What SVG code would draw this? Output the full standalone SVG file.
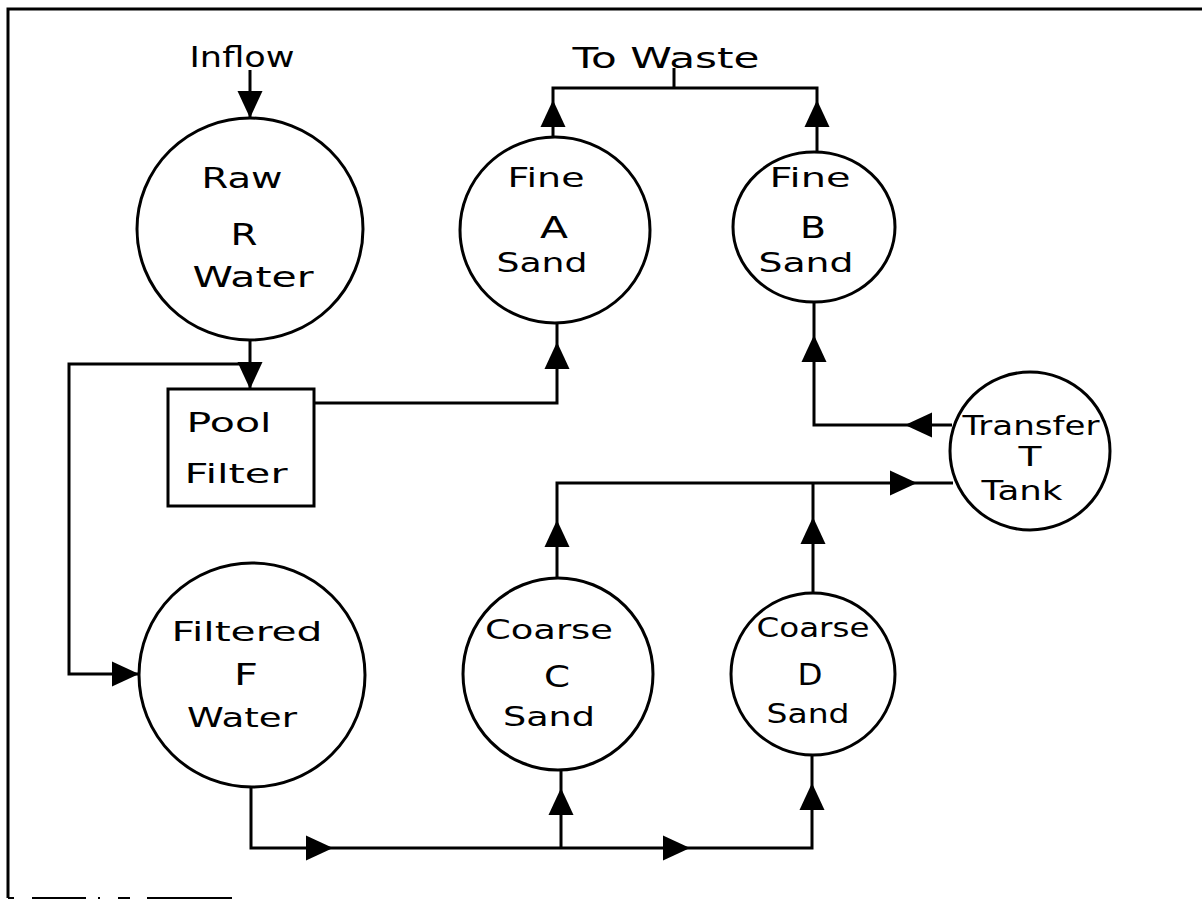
<svg xmlns="http://www.w3.org/2000/svg" xmlns:xlink="http://www.w3.org/1999/xlink" width="1202" height="900" viewBox="0 0 1202 900">
<style>
.bg{fill:#ffffff}
.node{fill:none;stroke:#000;stroke-width:3}
.ln{fill:none;stroke:#000;stroke-width:3;stroke-linejoin:miter}
.frame{fill:none;stroke:#000;stroke-width:3}
.t{font-family:"DejaVu Sans","Liberation Sans",sans-serif;font-size:27px;fill:#000;text-anchor:middle}
.tl{font-family:"DejaVu Sans","Liberation Sans",sans-serif;font-size:29px;fill:#000;text-anchor:middle}
.lt{font-family:"DejaVu Sans","Liberation Sans",sans-serif;font-size:30px;fill:#000;text-anchor:middle}
</style>
<defs>
<path id="ah" d="M0,0 L-27,-12.5 L-27,12.5 Z" fill="#000"/>
</defs>
<rect class="bg" x="0" y="0" width="1202" height="900"/>
<g id="frame">
<path class="frame" d="M8,898 V9 H1202"/>
<path fill="none" stroke="#000" stroke-width="2" d="M8,898 H14 M32,898 H86 M98,898 H100 M118,898 H130 M147,898 H232"/>
</g>
<g id="connectors">
<path class="ln" d="M250,70 V118"/>
<use xlink:href="#ah" transform="translate(250,118) rotate(90)"/>
<path class="ln" d="M250,341 V389"/>
<use xlink:href="#ah" transform="translate(250,389) rotate(90)"/>
<path class="ln" d="M314,403 H557 V322"/>
<use xlink:href="#ah" transform="translate(557,342) rotate(-90)"/>
<path class="ln" d="M553,137 V88 H817 V152 M674,68 V88"/>
<use xlink:href="#ah" transform="translate(553,100) rotate(-90)"/>
<use xlink:href="#ah" transform="translate(817,100) rotate(-90)"/>
<path class="ln" d="M952,425 H814 V302"/>
<use xlink:href="#ah" transform="translate(905,425) rotate(180)"/>
<use xlink:href="#ah" transform="translate(814,335) rotate(-90)"/>
<path class="ln" d="M557,578 V483 H953 M813,593 V483"/>
<use xlink:href="#ah" transform="translate(557,520) rotate(-90)"/>
<use xlink:href="#ah" transform="translate(813,517) rotate(-90)"/>
<use xlink:href="#ah" transform="translate(917,483)"/>
<path class="ln" d="M250,364 H69 V674 H139"/>
<use xlink:href="#ah" transform="translate(139,674)"/>
<path class="ln" d="M251,787 V848 H812 V755 M561,848 V770"/>
<use xlink:href="#ah" transform="translate(333,848)"/>
<use xlink:href="#ah" transform="translate(690,848)"/>
<use xlink:href="#ah" transform="translate(561,788) rotate(-90)"/>
<use xlink:href="#ah" transform="translate(812,783) rotate(-90)"/>
</g>
<g id="inflow">
<text class="tl" x="242" y="67" textLength="105" lengthAdjust="spacingAndGlyphs">Inflow</text>
</g>
<g id="waste">
<text class="tl" x="666" y="68" textLength="187" lengthAdjust="spacingAndGlyphs">To Waste</text>
</g>
<g id="R">
<ellipse class="node" cx="250" cy="229" rx="113" ry="111"/>
<text class="tl" x="242" y="188" textLength="81" lengthAdjust="spacingAndGlyphs">Raw</text>
<text class="lt" x="244" y="245" textLength="27" lengthAdjust="spacingAndGlyphs">R</text>
<text class="tl" x="253" y="287" textLength="121" lengthAdjust="spacingAndGlyphs">Water</text>
</g>
<g id="pool">
<rect class="node" x="168" y="389" width="146" height="117"/>
<text class="t" x="229" y="432" textLength="85" lengthAdjust="spacingAndGlyphs">Pool</text>
<text class="t" x="236" y="483" textLength="103" lengthAdjust="spacingAndGlyphs">Filter</text>
</g>
<g id="A">
<ellipse class="node" cx="555" cy="230" rx="95" ry="93"/>
<text class="t" x="546" y="187" textLength="77" lengthAdjust="spacingAndGlyphs">Fine</text>
<text class="lt" x="554" y="238" textLength="28" lengthAdjust="spacingAndGlyphs">A</text>
<text class="t" x="542" y="272" textLength="91" lengthAdjust="spacingAndGlyphs">Sand</text>
</g>
<g id="B">
<ellipse class="node" cx="814" cy="227" rx="81" ry="75"/>
<text class="t" x="810" y="187" textLength="81" lengthAdjust="spacingAndGlyphs">Fine</text>
<text class="lt" x="813" y="238" textLength="26" lengthAdjust="spacingAndGlyphs">B</text>
<text class="t" x="806" y="272" textLength="95" lengthAdjust="spacingAndGlyphs">Sand</text>
</g>
<g id="T">
<ellipse class="node" cx="1030" cy="451" rx="80" ry="79"/>
<text class="t" x="1031" y="435" font-size="25" textLength="137" lengthAdjust="spacingAndGlyphs">Transfer</text>
<text class="t" x="1030" y="466" font-size="23" textLength="23" lengthAdjust="spacingAndGlyphs">T</text>
<text class="t" x="1022" y="500" textLength="81" lengthAdjust="spacingAndGlyphs">Tank</text>
</g>
<g id="F">
<ellipse class="node" cx="252" cy="675" rx="113" ry="112"/>
<text class="t" x="247" y="641" textLength="151" lengthAdjust="spacingAndGlyphs">Filtered</text>
<text class="lt" x="246" y="685" textLength="24" lengthAdjust="spacingAndGlyphs">F</text>
<text class="t" x="242" y="727" textLength="110" lengthAdjust="spacingAndGlyphs">Water</text>
</g>
<g id="C">
<ellipse class="node" cx="558" cy="674" rx="95" ry="96"/>
<text class="t" x="549" y="639" textLength="128" lengthAdjust="spacingAndGlyphs">Coarse</text>
<text class="lt" x="557" y="687" textLength="26" lengthAdjust="spacingAndGlyphs">C</text>
<text class="t" x="549" y="726" textLength="92" lengthAdjust="spacingAndGlyphs">Sand</text>
</g>
<g id="D">
<ellipse class="node" cx="813" cy="674" rx="82" ry="81"/>
<text class="t" x="813" y="637" textLength="113" lengthAdjust="spacingAndGlyphs">Coarse</text>
<text class="lt" x="810" y="685" textLength="25" lengthAdjust="spacingAndGlyphs">D</text>
<text class="t" x="808" y="723" textLength="83" lengthAdjust="spacingAndGlyphs">Sand</text>
</g>
</svg>
